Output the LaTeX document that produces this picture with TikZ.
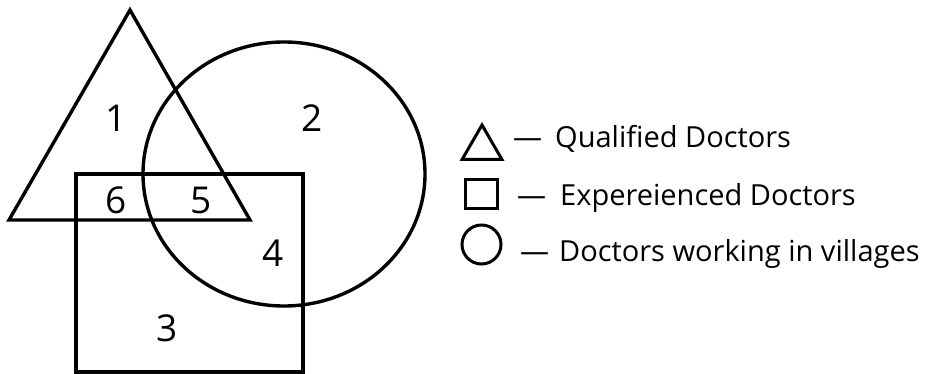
\documentclass[tikz,border=0pt]{standalone}
\usepackage{fontspec}
\setmainfont{Open Sans}
\usetikzlibrary{positioning,shapes.geometric}

\begin{document}
\begin{tikzpicture}[
    x=1pt, y=-1pt,
    outline/.style={draw=black, line width=3.4pt, line join=miter},
    region/.style={font=\fontsize{37}{40}\selectfont, inner sep=0pt},
    legtext/.style={font=\fontsize{29}{32}\selectfont, anchor=base west, inner sep=0pt},
    legtri/.style={outline, line width=3pt, regular polygon, regular polygon sides=3,
                   minimum size=46pt, inner sep=0pt},
    legsq/.style={outline, line width=3pt, minimum width=32pt, minimum height=29pt, inner sep=0pt},
    legcirc/.style={outline, line width=3pt, circle, minimum size=39pt, inner sep=0pt},
]
\useasboundingbox (0,0) rectangle (928,374);

% ---- the three sets ----
\coordinate (apex)  at (130,10);
\coordinate (tleft) at (9,220);
\coordinate (tright) at (250,220);
\draw[outline] (apex) -- (tleft) -- (tright) -- cycle;
\draw[outline] (76,174) rectangle (303,372);
\draw[outline] (284,174) ellipse [x radius=141, y radius=132];

% ---- region numbers ----
\node[region] (r1) at (116,118) {1};
\node[region] (r2) at (312,118) {2};
\node[region] (r3) at (167,328) {3};
\node[region] (r4) at (273,253) {4};
\node[region] (r5) at (201,200) {5};
\node[region] (r6) at (116,200) {6};

% ---- legend ----
\node[legtri]  (ktri)  at (482,148) {};
\node[legsq]   (ksq)   at (481.5,194) {};
\node[legcirc] (kcirc) at (481.5,244.5) {};

\node[legtext] (tqual) at (513,148) {\makebox[42pt][l]{—}Qualified Doctors};
\node[legtext] (texp)  at (517,205) {\makebox[43pt][l]{—}Expereienced Doctors};
\node[legtext] (tvil)  at (520,261) {\makebox[39pt][l]{—}Doctors working in villages};

\end{tikzpicture}
\end{document}
